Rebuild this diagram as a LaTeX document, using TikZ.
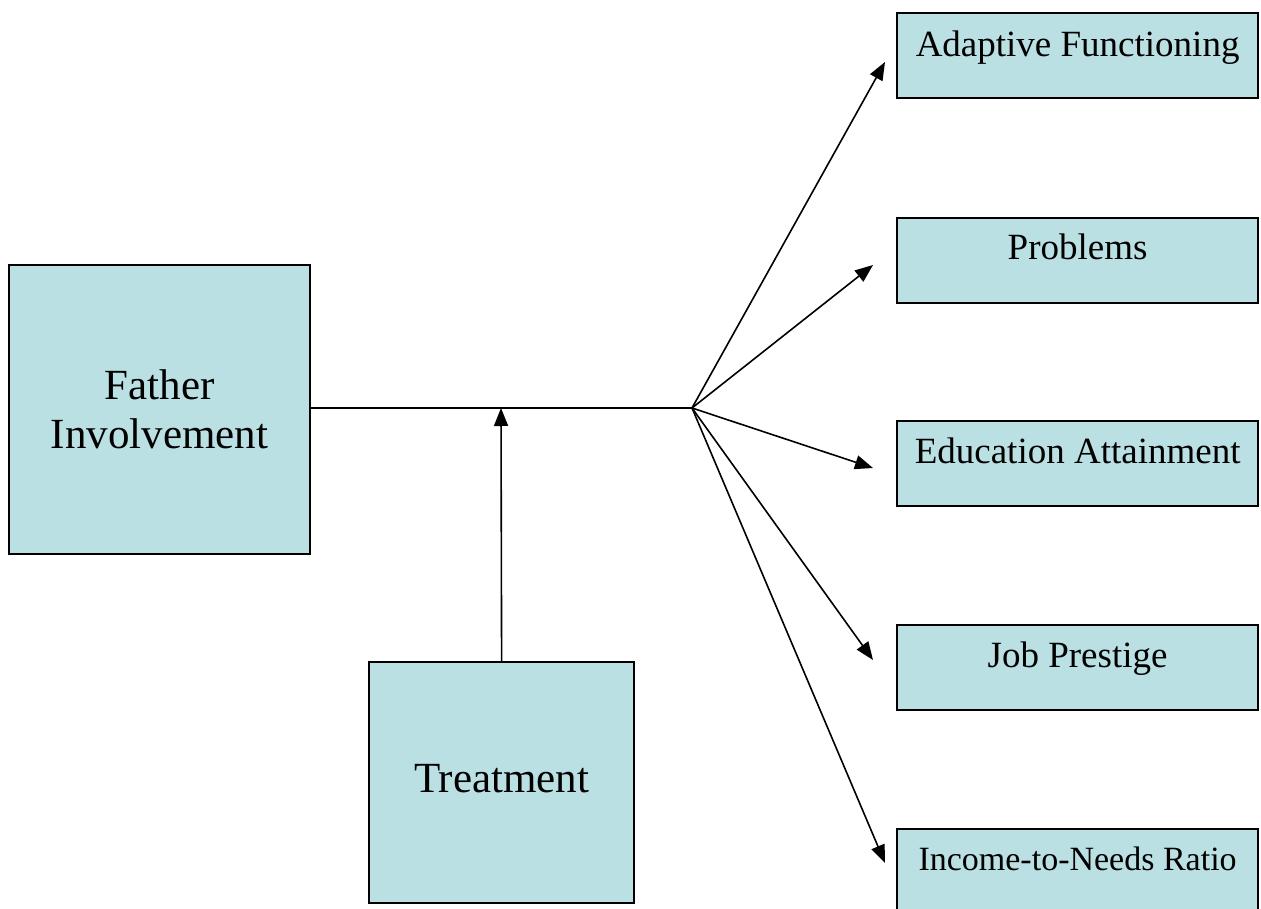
\documentclass[tikz,border=0pt]{standalone}
\usepackage{fontspec}
\setmainfont{Liberation Serif}
\usetikzlibrary{arrows.meta}
\definecolor{boxfill}{RGB}{187,224,227}
\begin{document}
\begin{tikzpicture}[x=1pt,y=-1pt,
  bigbox/.style={draw=black,line width=2.2pt,fill=boxfill,inner sep=0pt,anchor=north west},
  bigtext/.style={font=\fontsize{43}{49}\selectfont,align=center},
  outbox/.style={draw=black,line width=2.2pt,fill=boxfill,inner sep=0pt,anchor=north west,
    minimum width=361pt,minimum height=85pt},
  outtext/.style={font=\fontsize{37}{44}\selectfont,anchor=base},
  link/.style={line width=1.6pt,-{Triangle[length=18pt,width=14pt]}}]
\useasboundingbox (0,0) rectangle (1261,909);
\clip (0,0) rectangle (1261,909);

% predictor and moderator
\node[bigbox,minimum width=301pt,minimum height=289pt] (father) at (8,264) {};
\node[bigtext] (fathertxt) at (father.center) {Father\\Involvement};
\node[bigbox,minimum width=265pt,minimum height=241pt] (treat) at (368,661) {};
\node[bigtext] (treattxt) at ([yshift=4pt]treat.center) {Treatment};

% outcomes
\node[outbox] (adapt) at (896,12) {};
\node[outtext] (adapttxt) at ([yshift=-45pt]adapt.north) {Adaptive Functioning};
\node[outbox] (prob) at (896,217) {};
\node[outtext] (probtxt) at ([yshift=-43pt]prob.north) {Problems};
\node[outbox] (edu) at (896,420) {};
\node[outtext] (edutxt) at ([yshift=-43pt]edu.north) {Education Attainment};
\node[outbox] (job) at (896,624) {};
\node[outtext] (jobtxt) at ([yshift=-43pt]job.north) {Job Prestige};
\node[outbox,minimum height=100pt] (income) at (896,828) {};
\node[outtext,font=\fontsize{34}{40}\selectfont] (incometxt) at ([yshift=-42pt]income.north) {Income-to-Needs Ratio};

% branching point and arrow ends
\coordinate (fan) at (692,408);
\coordinate (meet) at (501,408);
\coordinate (toadapt) at (885,62);
\coordinate (toprob) at (873,265);
\coordinate (toedu) at (873,468);
\coordinate (tojob) at (873,660);
\coordinate (toincome) at (885,863);

% connectors
\draw[line width=1.6pt] (father.east |- fan) -- (fan);
\draw[link] (treat.north) -- (meet);
\draw[link] (fan) -- (toadapt);
\draw[link] (fan) -- (toprob);
\draw[link] (fan) -- (toedu);
\draw[link] (fan) -- (tojob);
\draw[link] (fan) -- (toincome);
\end{tikzpicture}
\end{document}
